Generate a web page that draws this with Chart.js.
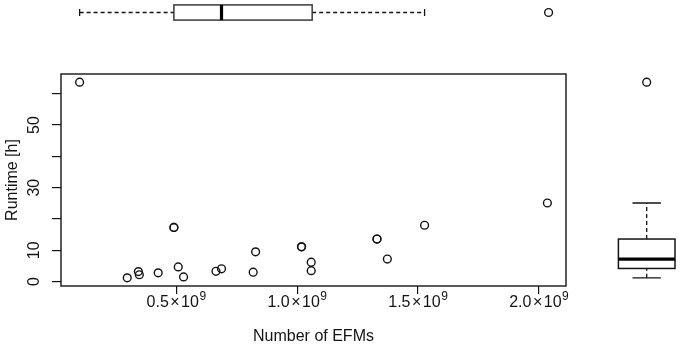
<!DOCTYPE html>
<html>
<head>
<meta charset="utf-8">
<script src="https://cdn.jsdelivr.net/npm/chart.js@4/dist/chart.umd.min.js"></script>
<style>
html,body{margin:0;padding:0;background:#fff;}
#wrap{width:680px;height:346px;position:relative;}
</style>
</head>
<body>
<div id="wrap"><canvas id="c" width="680" height="346"></canvas></div>
<script>
// ---- data ----
const efms = [0.100e9, 0.297e9, 0.343e9, 0.347e9, 0.425e9, 0.490e9, 0.490e9, 0.508e9, 0.530e9, 0.664e9, 0.687e9,
              0.818e9, 0.828e9, 1.018e9, 1.018e9, 1.058e9, 1.058e9, 1.330e9, 1.330e9, 1.373e9, 1.527e9, 2.035e9];
const runtime = [63.7, 1.2, 3.2, 2.2, 2.8, 17.3, 17.3, 4.7, 1.5, 3.3, 4.1,
                 3.0, 9.5, 11.1, 11.1, 6.2, 3.5, 13.6, 13.6, 7.2, 18.0, 25.1];

const xTickValues = [0.5e9, 1.0e9, 1.5e9, 2.0e9];
const xTickMantissa = ['0.5', '1.0', '1.5', '2.0'];
const xTickExponent = ['9', '9', '9', '9'];
const yTickValues = [0, 10, 20, 30, 40, 50, 60];
const yTickLabels = ['0', '10', '', '30', '', '50', ''];

// boxplot summaries: [lower whisker, Q1, median, Q3, upper whisker]
const efmsBox = [0.100e9, 0.490e9, 0.687e9, 1.062e9, 1.527e9];
const efmsOutliers = [2.040e9];
const runtimeBox = [1.2, 4.2, 7.2, 13.6, 25.1];
const runtimeOutliers = [63.7];

const xTitle = 'Number of EFMs';
const yTitle = 'Runtime [h]';

// ---- drawing ----
const FONT = '"Liberation Sans", Arial, Helvetica, sans-serif';
const INK = '#141414';

const points = efms.map((x, i) => ({x: x, y: runtime[i]}));

function circle(ctx, x, y, r) {
  ctx.beginPath();
  ctx.arc(x, y, r, 0, Math.PI * 2);
  ctx.stroke();
}

const rStylePlugin = {
  id: 'rStyle',
  afterDraw(chart) {
    const ctx = chart.ctx;
    const ca = chart.chartArea;
    const xs = chart.scales.x, ys = chart.scales.y;
    ctx.save();
    // plot frame
    ctx.strokeStyle = INK;
    ctx.lineWidth = 1.4;
    ctx.strokeRect(ca.left, ca.top, ca.right - ca.left, ca.bottom - ca.top);

    // x tick labels with superscript exponent
    ctx.fillStyle = INK;
    ctx.textBaseline = 'alphabetic';
    const baseY = 307;
    xTickValues.forEach((v, i) => {
      const px = xs.getPixelForValue(v);
      ctx.font = '16px ' + FONT;
      const a = xTickMantissa[i], times = '\u00d7', ten = '10';
      const wa = ctx.measureText(a).width, wt = ctx.measureText(times).width, w10 = ctx.measureText(ten).width;
      ctx.font = '12px ' + FONT;
      const we = ctx.measureText(xTickExponent[i]).width;
      const gap = 1.5;
      const total = wa + gap + wt + gap + w10 + 0.5 + we;
      let cx = px - total / 2;
      ctx.textAlign = 'left';
      ctx.font = '16px ' + FONT;
      ctx.fillText(a, cx, baseY); cx += wa + gap;
      ctx.fillText(times, cx, baseY); cx += wt + gap;
      ctx.fillText(ten, cx, baseY); cx += w10 + 0.5;
      ctx.font = '12px ' + FONT;
      ctx.fillText(xTickExponent[i], cx, baseY - 7);
    });

    // y tick labels, rotated like R's default
    ctx.font = '16px ' + FONT;
    ctx.textAlign = 'center';
    ctx.textBaseline = 'middle';
    yTickValues.forEach((v, i) => {
      if (!yTickLabels[i]) return;
      const py = ys.getPixelForValue(v);
      ctx.save();
      ctx.translate(35, py);
      ctx.rotate(-Math.PI / 2);
      ctx.fillText(yTickLabels[i], 0, 0);
      ctx.restore();
    });

    // ---- top marginal boxplot (horizontal) ----
    const cy = 12.5, half = 7.6, cap = 3.6;
    const bx = efmsBox.map(v => xs.getPixelForValue(v));
    ctx.strokeStyle = INK;
    ctx.lineWidth = 1.3;
    ctx.setLineDash([4, 3]);
    ctx.beginPath();
    ctx.moveTo(bx[0], cy); ctx.lineTo(bx[1], cy);
    ctx.moveTo(bx[3], cy); ctx.lineTo(bx[4], cy);
    ctx.stroke();
    ctx.setLineDash([]);
    ctx.beginPath();
    ctx.moveTo(bx[0], cy - cap); ctx.lineTo(bx[0], cy + cap);
    ctx.moveTo(bx[4], cy - cap); ctx.lineTo(bx[4], cy + cap);
    ctx.stroke();
    ctx.fillStyle = '#fff';
    ctx.fillRect(bx[1], cy - half, bx[3] - bx[1], 2 * half);
    ctx.lineWidth = 1.5;
    ctx.strokeStyle = '#3a3a3a';
    ctx.strokeRect(bx[1], cy - half, bx[3] - bx[1], 2 * half);
    ctx.strokeStyle = '#000';
    ctx.lineWidth = 3.2;
    ctx.beginPath();
    ctx.moveTo(bx[2], cy - half); ctx.lineTo(bx[2], cy + half);
    ctx.stroke();
    ctx.strokeStyle = INK;
    ctx.lineWidth = 1.4;
    efmsOutliers.forEach(v => circle(ctx, xs.getPixelForValue(v), cy, 3.9));

    // ---- right marginal boxplot (vertical) ----
    const cx0 = 646.7, halfW = 28.3, capW = 14.2;
    const by = runtimeBox.map(v => ys.getPixelForValue(v));
    ctx.strokeStyle = INK;
    ctx.lineWidth = 1.3;
    ctx.setLineDash([4, 3]);
    ctx.beginPath();
    ctx.moveTo(cx0, by[0]); ctx.lineTo(cx0, by[1]);
    ctx.moveTo(cx0, by[3]); ctx.lineTo(cx0, by[4]);
    ctx.stroke();
    ctx.setLineDash([]);
    ctx.beginPath();
    ctx.moveTo(cx0 - capW, by[0]); ctx.lineTo(cx0 + capW, by[0]);
    ctx.moveTo(cx0 - capW, by[4]); ctx.lineTo(cx0 + capW, by[4]);
    ctx.stroke();
    ctx.fillStyle = '#fff';
    ctx.fillRect(cx0 - halfW, by[3], 2 * halfW, by[1] - by[3]);
    ctx.lineWidth = 1.5;
    ctx.strokeRect(cx0 - halfW, by[3], 2 * halfW, by[1] - by[3]);
    ctx.strokeStyle = '#000';
    ctx.lineWidth = 3.2;
    ctx.beginPath();
    ctx.moveTo(cx0 - halfW, by[2]); ctx.lineTo(cx0 + halfW, by[2]);
    ctx.stroke();
    ctx.strokeStyle = INK;
    ctx.lineWidth = 1.4;
    runtimeOutliers.forEach(v => circle(ctx, cx0, ys.getPixelForValue(v), 3.9));

    ctx.restore();
  }
};

new Chart(document.getElementById('c'), {
  type: 'scatter',
  data: {
    datasets: [{
      data: points,
      pointStyle: 'circle',
      pointRadius: 3.9,
      pointHoverRadius: 3.9,
      borderWidth: 1.4,
      borderColor: INK,
      backgroundColor: 'rgba(0,0,0,0)',
      clip: false
    }]
  },
  options: {
    responsive: false,
    animation: false,
    devicePixelRatio: 1,
    layout: {padding: {top: 74, right: 114, left: 0, bottom: 0}},
    plugins: {legend: {display: false}, tooltip: {enabled: false}},
    events: [],
    scales: {
      x: {
        type: 'linear',
        min: 0.023e9,
        max: 2.112e9,
        afterBuildTicks: s => { s.ticks = xTickValues.map(v => ({value: v})); },
        afterFit: s => { s.height = 60; },
        grid: {display: true, drawOnChartArea: false, drawTicks: true, tickLength: 8, color: INK, lineWidth: 1.2},
        border: {display: false},
        ticks: {display: false},
        title: {display: true, text: xTitle, color: INK, font: {family: FONT, size: 16}, padding: {top: 0, bottom: 0}}
      },
      y: {
        type: 'linear',
        min: -1.4,
        max: 66.3,
        afterBuildTicks: s => { s.ticks = yTickValues.map(v => ({value: v})); },
        afterFit: s => { s.width = 61; },
        grid: {display: true, drawOnChartArea: false, drawTicks: true, tickLength: 9, color: INK, lineWidth: 1.2},
        border: {display: false},
        ticks: {display: false},
        title: {display: true, text: yTitle, color: INK, font: {family: FONT, size: 16}, padding: {top: 3, bottom: 0}}
      }
    }
  },
  plugins: [rStylePlugin]
});
</script>
</body>
</html>
